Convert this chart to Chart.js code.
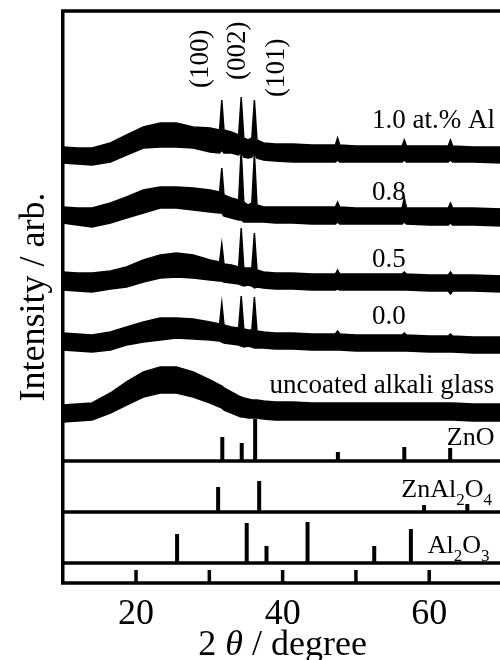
<!DOCTYPE html>
<html lang="en">
<head>
<meta charset="UTF-8">
<title>XRD patterns of Al-doped ZnO films</title>
<script src="https://cdn.jsdelivr.net/npm/chart.js@4.4.0/dist/chart.umd.min.js"></script>
<style>
  html, body { margin: 0; padding: 0; background: #fff; overflow: hidden; }
  #wrap { width: 500px; height: 660px; overflow: hidden; }
</style>
</head>
<body>
<div id="wrap"><canvas id="xrd" width="510" height="680"></canvas></div>
<script>
// 2theta grid the traces were read on (degree)
const twoTheta = [10, 12, 14, 16.5, 18.7, 21, 23.3, 25.5, 27.8, 30.1, 31.4, 31.7, 32.0, 33, 34.0, 34.35, 34.7, 35.3, 35.8, 36.15, 36.5, 37.4, 39, 41.4, 44, 47.2, 47.5, 47.8, 50, 53, 56.3, 56.6, 56.9, 60, 62.6, 62.9, 63.2, 66, 70];

// upper / lower edge of each noisy trace (arb. units, traces already offset)
const al10Upper = [314,313,313,318,326,334,338,338,334,333, 331,361,331,329,326,364,323,321,323,361, 321,318,317,317,316,316,323,316,315,315, 315,321,315,315,315,321,315,314,314];
const al10Lower = [298,297,296,299,306,313,314,314,313,309, 308,311,308,308,306,309,304,303,304,308, 303,301,300,299,299,299,301,299,299,299, 299,301,299,299,299,301,299,299,298];
const al08Upper = [254,253,253,258,264,271,274,274,273,271, 269,293,266,263,261,311,259,256,258,308, 256,254,254,254,254,254,259,254,253,253, 253,263,253,253,253,258,253,253,252];
const al08Lower = [238,236,234,238,243,248,253,253,251,249, 248,248,245,243,241,241,239,239,239,239, 239,239,238,238,237,237,239,237,237,237, 237,239,237,236,236,238,236,236,235];
const al05Upper = [189,188,188,190,194,201,206,208,206,201, 199,217,197,196,194,233,193,193,193,228, 191,189,188,188,187,187,191,187,187,187, 187,189,187,186,186,189,186,186,185];
const al05Lower = [171,170,169,172,174,179,183,184,183,181, 180,180,179,178,177,176,175,176,175,173, 174,173,172,172,171,171,172,171,171,171, 171,171,171,170,170,167,170,170,169];
const al00Upper = [128,127,126,129,134,139,143,143,142,139, 137,158,136,134,133,165,132,131,131,164, 130,129,128,128,127,127,130,127,126,126, 126,128,126,125,125,127,125,124,124];
const al00Lower = [111,110,109,111,116,119,121,123,122,121, 120,119,118,117,116,115,114,115,114,113, 113,113,112,112,111,111,111,111,110,110, 110,110,110,109,109,109,109,108,108];
const glassUpper = [56,57,58,68,79,89,94,94,89,81, 76,75,73,69,65,64,63,62,61,61, 61,60,59,59,58,58,58,58,58,58, 58,58,58,58,58,58,58,57,57];
const glassLower = [39,40,41,48,56,64,68,68,64,58, 54,53,51,48,45,44,44,43,43,43, 43,42,41,41,41,41,41,41,41,41, 41,41,41,41,41,41,41,40,40];

const sampleNames = ['1.0 at.% Al', '0.8', '0.5', '0.0', 'uncoated alkali glass'];

// reference patterns (stick positions and heights)
const znoPos = [31.77, 34.42, 36.25, 47.54, 56.60, 62.86];
const znoInt = [24, 18, 42, 9, 14, 13];
const spinelPos = [31.2, 36.8, 59.3, 65.2];
const spinelInt = [25, 31, 7, 8];
const aluminaPos = [25.6, 35.1, 37.8, 43.4, 52.5, 57.5];
const aluminaInt = [29, 40, 17, 41, 17, 34];
const panelBase = [0, -51, -102];   // ZnO, ZnAl2O4, Al2O3
const yMin = -122, yMax = 450;

const millerLabels = ['(100)', '(002)', '(101)'];
const xTicks = [10, 20, 30, 40, 50, 60, 70];
const xTickLabels = ['', '20', '', '40', '', '60', ''];

const FONT = "'Liberation Serif', 'Times New Roman', serif";

const pts = arr => arr.map((v, i) => ({ x: twoTheta[i], y: v }));
const sticks = (pos, h, base) => pos.flatMap((p, i) => [{ x: p, y: base }, { x: p, y: base + h[i] }, { x: p, y: null }]);

const traces = [[al10Upper, al10Lower], [al08Upper, al08Lower], [al05Upper, al05Lower], [al00Upper, al00Lower], [glassUpper, glassLower]];
const datasets = [];
traces.forEach(([up, lo], i) => {
  datasets.push({ label: sampleNames[i], data: pts(up), borderColor: '#000', borderWidth: 1.5, pointRadius: 0, fill: false });
  datasets.push({ label: sampleNames[i] + ' low', data: pts(lo), borderColor: '#000', backgroundColor: '#000', borderWidth: 1.5, pointRadius: 0, fill: '-1' });
});
[[znoPos, znoInt], [spinelPos, spinelInt], [aluminaPos, aluminaInt]].forEach(([p, h], i) => {
  datasets.push({ label: 'ref' + i, data: sticks(p, h, panelBase[i]), borderColor: '#000', borderWidth: 4, borderCapStyle: 'butt', pointRadius: 0, spanGaps: false, fill: false });
});

// text with plain / subscript / italic runs
function richText(ctx, parts, x, y, size) {
  parts.forEach(([txt, style]) => {
    const sub = style === 1;
    ctx.font = (style === 2 ? 'italic ' : '') + (sub ? Math.round(size * 0.66) : size) + 'px ' + FONT;
    ctx.fillText(txt, x, y + (sub ? size * 0.3 : 0));
    x += ctx.measureText(txt).width;
  });
}
function richWidth(ctx, parts, size) {
  let w = 0;
  parts.forEach(([txt, style]) => {
    ctx.font = (style === 2 ? 'italic ' : '') + (style === 1 ? Math.round(size * 0.66) : size) + 'px ' + FONT;
    w += ctx.measureText(txt).width;
  });
  return w;
}

const decor = {
  id: 'decor',
  afterDatasetsDraw(chart) {
    const { ctx, chartArea: a, scales: { x, y } } = chart;
    ctx.save();
    ctx.strokeStyle = '#000';
    ctx.fillStyle = '#000';
    ctx.lineWidth = 3.5;
    ctx.lineCap = 'butt';
    // frame and panel dividers
    ctx.strokeRect(a.left, a.top, a.right - a.left, a.bottom - a.top);
    panelBase.forEach(v => {
      const py = y.getPixelForValue(v);
      ctx.beginPath(); ctx.moveTo(a.left, py); ctx.lineTo(a.right, py); ctx.stroke();
    });
    // inward ticks in the bottom strip
    x.ticks.forEach(t => {
      if (t.value <= x.min || t.value >= x.max) return;
      const px = x.getPixelForValue(t.value);
      ctx.beginPath(); ctx.moveTo(px, a.bottom); ctx.lineTo(px, a.bottom - 13); ctx.stroke();
    });
    // sample labels
    ctx.textBaseline = 'alphabetic';
    ctx.textAlign = 'left';
    ctx.font = '27px ' + FONT;
    const sampleAt = [[52.2, 333], [52.2, 261], [52.2, 194], [52.2, 137], [38.2, 68]];
    sampleNames.forEach((s, i) => ctx.fillText(s, x.getPixelForValue(sampleAt[i][0]), y.getPixelForValue(sampleAt[i][1])));
    // reference pattern names
    const refAt = [[62.4, 16], [56.2, -36], [59.8, -92]];
    const refNames = [[['ZnO', 0]], [['ZnAl', 0], ['2', 1], ['O', 0], ['4', 1]], [['Al', 0], ['2', 1], ['O', 0], ['3', 1]]];
    refNames.forEach((parts, i) => richText(ctx, parts, x.getPixelForValue(refAt[i][0]), y.getPixelForValue(refAt[i][1]), 26));
    // Miller indices, rotated
    const millerAt = [[29.8, 373], [34.9, 381], [40.2, 364]];
    ctx.font = '27px ' + FONT;
    millerLabels.forEach((m, i) => {
      ctx.save();
      ctx.translate(x.getPixelForValue(millerAt[i][0]), y.getPixelForValue(millerAt[i][1]));
      ctx.rotate(-Math.PI / 2);
      ctx.fillText(m, 0, 0);
      ctx.restore();
    });
    // x axis title with italic theta
    const xTitle = [['2 ', 0], ['θ', 2], [' / degree', 0]];
    const w = richWidth(ctx, xTitle, 36);
    richText(ctx, xTitle, (a.left + a.right) / 2 - w / 2, a.bottom + 72, 36);
    ctx.restore();
  }
};

new Chart(document.getElementById('xrd'), {
  type: 'line',
  data: { datasets },
  options: {
    responsive: false,
    animation: false,
    layout: { padding: { top: 11, right: 7.5, left: 12.75, bottom: 0 } },
    plugins: { legend: { display: false }, tooltip: { enabled: false } },
    elements: { line: { tension: 0 } },
    scales: {
      x: {
        type: 'linear', min: 10, max: 70,
        afterBuildTicks: s => { s.ticks = xTicks.map(v => ({ value: v })); },
        afterFit: s => { s.height = 97; s.paddingLeft = 0; s.paddingRight = 0; },
        grid: { display: false, drawTicks: false },
        border: { display: false },
        ticks: { color: '#000', font: { family: FONT, size: 36 }, padding: 10, maxRotation: 0,
                  callback: (v, i) => xTickLabels[i] },
        title: { display: false }
      },
      y: {
        min: yMin, max: yMax,
        afterFit: s => { s.width = 50; },
        grid: { display: false },
        border: { display: false },
        ticks: { display: false },
        title: { display: true, text: 'Intensity / arb.', color: '#000', font: { family: FONT, size: 36 }, padding: 0 }
      }
    }
  },
  plugins: [decor]
});
</script>
</body>
</html>
